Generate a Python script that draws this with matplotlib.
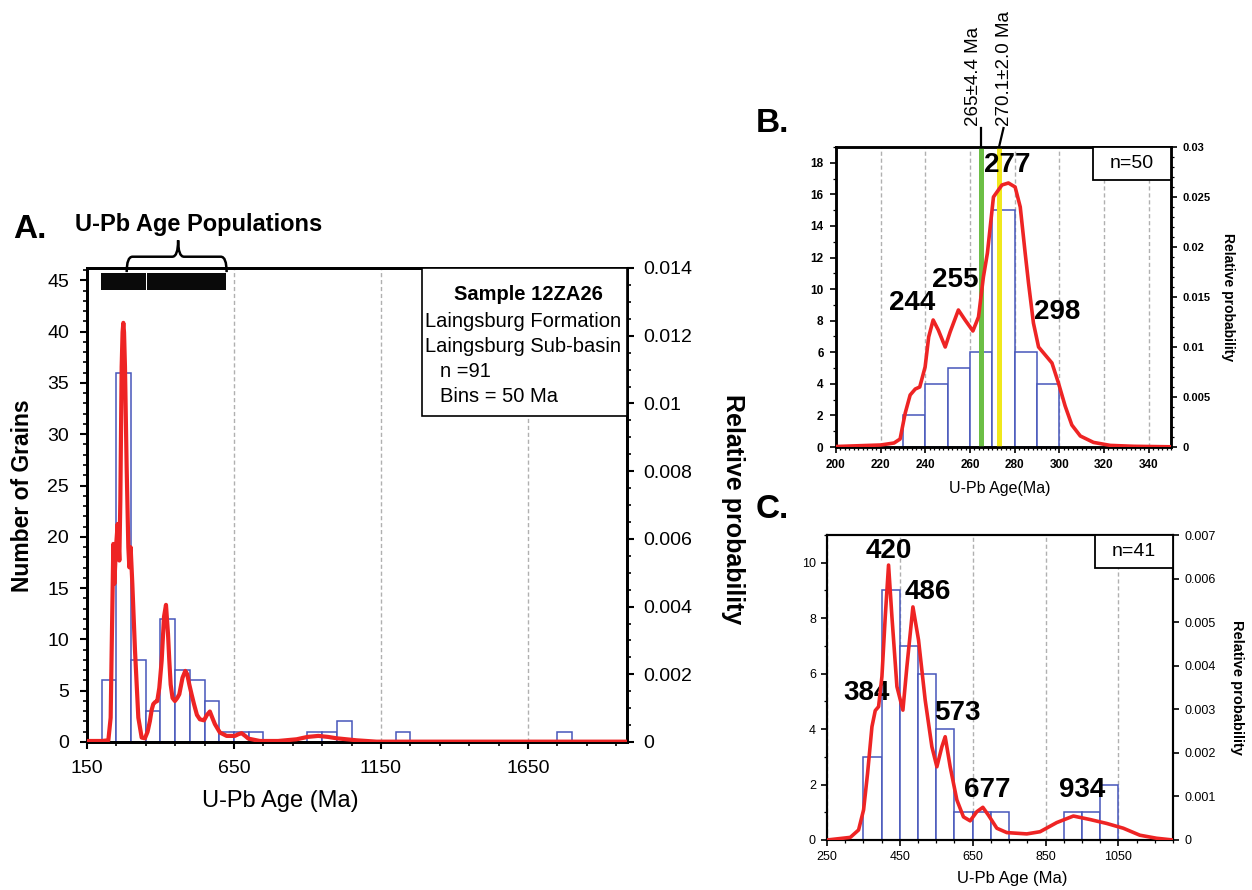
import matplotlib
matplotlib.use("Agg")
import matplotlib.pyplot as plt
from matplotlib.patches import PathPatch, Rectangle
from matplotlib.path import Path
from matplotlib.ticker import FixedLocator, FuncFormatter, MultipleLocator

# ---- panel A: sample 12ZA26, Laingsburg Formation (50 Ma bins)
bin_left_a = [200, 250, 300, 350, 400, 450, 500, 550, 600, 650, 700, 900, 950, 1000, 1200, 1750]
counts_a = [6, 36, 8, 3, 12, 7, 6, 4, 1, 1, 1, 1, 1, 2, 1, 1]
pdp_age_a = [150, 200, 222.6, 230.5, 233.9, 239.6, 243, 248.6, 254.3, 260, 263.4, 267.9, 271,
             273.6, 276, 279.2, 284.9, 290.6, 294, 298.5, 304.2, 313.3, 324.6, 336, 347, 356,
             364, 370, 375.5, 382, 389, 396, 404, 412, 418.7, 425.5, 430, 434.6, 441, 449, 457,
             464, 475, 484.4, 491, 498, 506, 514, 524, 534, 548, 558, 568, 577, 585, 602, 625,
             653, 665, 676, 688, 699, 738, 800, 863, 900, 937, 970, 999, 1067, 1135, 1987]
pdp_prob_a = [0.00003, 0.00003, 0.00005, 0.00072, 0.0027, 0.00585, 0.00467, 0.00575, 0.00644,
              0.00536, 0.00713, 0.01108, 0.0121, 0.01238, 0.0121, 0.01108, 0.00812, 0.00575,
              0.00516, 0.00575, 0.00467, 0.0027, 0.00072, 0.00013, 0.00011, 0.0003, 0.00062,
              0.00095, 0.00112, 0.00118, 0.00121, 0.0016, 0.0024, 0.0037, 0.00405, 0.0032,
              0.0024, 0.0017, 0.0013, 0.00121, 0.0013, 0.00141, 0.0019, 0.0021, 0.002, 0.0017,
              0.0014, 0.00112, 0.0008, 0.00067, 0.00064, 0.0008, 0.0009, 0.0007, 0.00053,
              0.00028, 0.00018, 0.00018, 0.00023, 0.00026, 0.00018, 0.0001, 0.00003, 0.00003,
              0.00008, 0.00015, 0.00018, 0.00015, 0.00011, 0.00005, 0.00001, 0.00001]
populations_a = [(197, 352), (354, 623)]
info_a = ["Sample 12ZA26", "Laingsburg Formation", "Laingsburg Sub-basin", "n =91", "Bins = 50 Ma"]

# ---- panel B: 10 Ma bins, n=50
bin_left_b = [230, 240, 250, 260, 270, 280, 290]
counts_b = [2, 4, 5, 6, 15, 6, 4]
pdp_age_b = [200, 220, 226, 228.7, 231, 233.2, 235.5, 237.5, 239.9, 241.5, 243.5, 245.8, 248.9,
             251.1, 254.8, 257.8, 261.3, 263.8, 266, 267.8, 270.5, 274.3, 277.2, 280.2, 282.5,
             284.7, 286.2, 288.4, 290.7, 293.7, 296.7, 299.6, 302.6, 305.6, 309.4, 315.3, 322.8,
             333.3, 350]
pdp_prob_b = [0.00005, 0.0002, 0.0004, 0.0008, 0.0034, 0.0052, 0.0058, 0.006, 0.008, 0.011,
              0.0127, 0.0117, 0.0100, 0.0115, 0.0137, 0.0127, 0.0116, 0.0130, 0.0170, 0.0194,
              0.0250, 0.0262, 0.0264, 0.0260, 0.0240, 0.0194, 0.0164, 0.0124, 0.0100, 0.0092,
              0.0084, 0.0064, 0.0041, 0.0022, 0.0011, 0.00046, 0.00016, 0.00007, 0.00002]
peaks_b = ["244", "255", "277", "298"]
dated_ages_b = [265, 273]
dated_labels_b = ["265±4.4 Ma", "270.1±2.0 Ma"]

# ---- panel C: 50 Ma bins, n=41
bin_left_c = [350, 400, 450, 500, 550, 600, 650, 700, 900, 950, 1000]
counts_c = [3, 9, 7, 6, 4, 1, 1, 1, 1, 1, 2]
pdp_age_c = [250, 313.9, 336.7, 350.4, 361.4, 373.4, 382.5, 391.6, 400.8, 409.9, 419, 428.3,
             442, 458.4, 469.4, 485.9, 501.3, 519.6, 538, 551.7, 565.4, 574.5, 588.2, 606.5,
             624.7, 643, 661.4, 677.9, 693.2, 716.3, 743.7, 798.5, 835, 880.8, 926.5, 972.2,
             1018, 1063.6, 1109, 1155, 1200]
pdp_prob_c = [0.0, 0.00006, 0.00023, 0.00069, 0.00153, 0.0026, 0.00297, 0.00306, 0.00375,
              0.00512, 0.00631, 0.00512, 0.00352, 0.00298, 0.00398, 0.00535, 0.00459, 0.00321,
              0.00214, 0.00168, 0.00214, 0.00237, 0.00168, 0.00092, 0.00053, 0.00044, 0.00065,
              0.00075, 0.00057, 0.00027, 0.00017, 0.00014, 0.00019, 0.0004, 0.00055, 0.00047,
              0.00038, 0.00027, 0.00011, 0.00004, 0.0]
peaks_c = ["384", "420", "486", "573", "677", "934"]

BLUE = "#4656bb"
RED = "#ee2424"
GRID = "#b0b0b0"
GREEN = "#6cbf45"
YELLOW = "#f0e81c"

W, H = 1252, 890
plt.rcParams["font.family"] = ["Liberation Sans", "DejaVu Sans"]
fig = plt.figure(figsize=(W / 100, H / 100), dpi=100)


def fx(px):
    return px / W


def fy(py):
    return 1 - py / H


def rect(left, top, right, bottom):
    return [fx(left), fy(bottom), (right - left) / W, (bottom - top) / H]


prob_fmt = FuncFormatter(lambda v, _: f"{v:g}")


def hist_panel(ax, lefts, counts, width, lw):
    ax.bar(lefts, counts, width=width, align="edge", facecolor="white",
           edgecolor=BLUE, linewidth=lw, zorder=2)
    ax.grid(axis="x", which="major", color=GRID, ls=(0, (3, 2)), lw=1.0)
    ax.set_axisbelow(True)


def spines(ax, lw):
    for s in ax.spines.values():
        s.set_linewidth(lw)


def info_box(ax, x0, y0, text, size):
    ax.add_patch(Rectangle((x0, y0), 1 - x0, 1 - y0, transform=ax.transAxes,
                           facecolor="white", edgecolor="black", lw=1.3, zorder=6, clip_on=False))
    ax.text((x0 + 1) / 2, (y0 + 1) / 2, text, transform=ax.transAxes, ha="center",
            va="center", fontsize=size, zorder=7)


# ================= panel A =================
axA = fig.add_axes(rect(87, 268, 627, 742))
hist_panel(axA, bin_left_a, counts_a, 50, 1.1)
axA.broken_barh([(a, b - a) for a, b in populations_a], (44.1, 1.6), facecolors="#0a0a0a",
                zorder=3)
axA.set_xlim(150, 1987)
axA.set_ylim(0, 46.2)
axA.xaxis.set_major_locator(FixedLocator([150, 650, 1150, 1650]))
axA.xaxis.set_minor_locator(FixedLocator(list(range(150, 1987, 100))))
axA.yaxis.set_major_locator(MultipleLocator(5))
axA.yaxis.set_minor_locator(MultipleLocator(1))
axA.tick_params(which="major", direction="out", length=5, width=1.5, labelsize=14, pad=8)
axA.tick_params(which="minor", direction="out", length=3, width=1.2)

# brace over the populations
brace = Path(
    [(285, 45.8), (285, 47.3), (305, 47.3), (440, 47.3), (460, 47.3), (460, 48.9),
     (460, 47.3), (480, 47.3), (605, 47.3), (625, 47.3), (625, 45.8)],
    [Path.MOVETO, Path.CURVE3, Path.CURVE3, Path.LINETO, Path.CURVE3, Path.CURVE3,
     Path.CURVE3, Path.CURVE3, Path.LINETO, Path.CURVE3, Path.CURVE3])
axA.add_patch(PathPatch(brace, facecolor="none", edgecolor="black", lw=1.8, clip_on=False))

axA2 = axA.twinx()
axA2.plot(pdp_age_a, pdp_prob_a, color=RED, lw=3.0, solid_joinstyle="round",
          solid_capstyle="round", zorder=3)
axA2.set_ylim(0, 0.014)
axA2.yaxis.set_major_locator(MultipleLocator(0.002))
axA2.yaxis.set_minor_locator(MultipleLocator(0.0005))
axA2.yaxis.set_major_formatter(prob_fmt)
axA2.tick_params(which="major", direction="out", length=5, width=1.5, labelsize=14, pad=7)
axA2.tick_params(which="minor", direction="out", length=3, width=1.2)
spines(axA, 2.0)
spines(axA2, 2.0)

axA2.add_patch(Rectangle((0.620, 0.688), 0.38, 0.312, transform=axA2.transAxes,
                         facecolor="white", edgecolor="black", lw=1.2, zorder=6))
axA2.text(0.817, 0.944, info_a[0], transform=axA2.transAxes, ha="center", va="center",
          fontsize=14.5, fontweight="bold", zorder=7)
for txt, xx, yy in zip(info_a[1:], [0.626, 0.626, 0.654, 0.654], [0.887, 0.835, 0.782, 0.729]):
    axA2.text(xx, yy, txt, transform=axA2.transAxes, ha="left", va="center",
              fontsize=14.5, zorder=7)

fig.text(fx(23), fy(496), "Number of Grains", rotation=90, ha="center", va="center",
         fontsize=16.5, fontweight="bold")
fig.text(fx(280), fy(801), "U-Pb Age (Ma)", ha="center", va="center", fontsize=17)
fig.text(fx(733), fy(509), "Relative probability", rotation=270, ha="center", va="center",
         fontsize=18, fontweight="bold")
fig.text(fx(199), fy(225), "U-Pb Age Populations", ha="center", va="center", fontsize=17,
         fontweight="bold")
fig.text(fx(30), fy(230), "A.", ha="center", va="center", fontsize=24, fontweight="bold")

# ================= panel B =================
axB = fig.add_axes(rect(836, 147, 1171, 447))
hist_panel(axB, bin_left_b, counts_b, 10, 1.1)
axB.set_xlim(200, 350)
axB.set_ylim(0, 19)
axB.xaxis.set_major_locator(MultipleLocator(20))
axB.xaxis.set_minor_locator(MultipleLocator(2))
axB.yaxis.set_major_locator(MultipleLocator(2))
axB.yaxis.set_minor_locator(MultipleLocator(1))
axB.tick_params(which="major", direction="out", length=4, width=1.2, labelsize=8.5, pad=5)
axB.tick_params(which="minor", direction="out", length=2, width=0.9)
for lab in axB.get_xticklabels() + axB.get_yticklabels():
    lab.set_fontweight("bold")

axB2 = axB.twinx()
axB2.plot(pdp_age_b, pdp_prob_b, color=RED, lw=2.6, solid_joinstyle="round",
          solid_capstyle="round", zorder=3)
axB2.set_ylim(0, 0.03)
axB2.yaxis.set_major_locator(MultipleLocator(0.005))
axB2.yaxis.set_minor_locator(MultipleLocator(0.001))
axB2.yaxis.set_major_formatter(prob_fmt)
axB2.tick_params(which="major", direction="out", length=4, width=1.2, labelsize=8, pad=4)
axB2.tick_params(which="minor", direction="out", length=2, width=0.9)
for lab in axB2.get_yticklabels():
    lab.set_fontweight("bold")
spines(axB, 1.8)
spines(axB2, 1.8)

for age, col in zip(dated_ages_b, [GREEN, YELLOW]):
    axB.axvline(age, color=col, lw=3.6, zorder=4)
axB.plot([dated_ages_b[0], dated_ages_b[0]], [19, 20.2], color="black", lw=1.6, clip_on=False)
axB.plot([dated_ages_b[1], dated_ages_b[1] + 2], [19, 20.2], color="black", lw=1.6,
         clip_on=False)
for lab, xx in zip(dated_labels_b, [261.4, 275.3]):
    axB.text(xx, 20.3, lab, rotation=90, ha="center", va="bottom", fontsize=13.5, clip_on=False)

for lab, (xx, yy) in zip(peaks_b, [(233.9, 9.1), (253.6, 10.6), (276.8, 17.85), (298.9, 8.55)]):
    axB.text(xx, yy, lab, ha="center", va="center", fontsize=20, fontweight="bold", zorder=8)

info_box(axB2, 0.767, 0.89, "n=50", 14)
fig.text(fx(1000), fy(488), "U-Pb Age(Ma)", ha="center", va="center", fontsize=11.5)
fig.text(fx(1228), fy(297), "Relative probability", rotation=270, ha="center", va="center",
         fontsize=10, fontweight="bold")
fig.text(fx(772), fy(124), "B.", ha="center", va="center", fontsize=24, fontweight="bold")

# ================= panel C =================
axC = fig.add_axes(rect(827, 535, 1173, 840))
hist_panel(axC, bin_left_c, counts_c, 50, 1.1)
axC.set_xlim(250, 1200)
axC.set_ylim(0, 11)
axC.xaxis.set_major_locator(FixedLocator([250, 450, 650, 850, 1050]))
axC.xaxis.set_minor_locator(MultipleLocator(50))
axC.yaxis.set_major_locator(MultipleLocator(2))
axC.yaxis.set_minor_locator(MultipleLocator(1))
axC.tick_params(which="major", direction="out", length=4, width=1.2, labelsize=9, pad=4)
axC.tick_params(which="minor", direction="out", length=2, width=0.9)

axC2 = axC.twinx()
axC2.plot(pdp_age_c, pdp_prob_c, color=RED, lw=2.6, solid_joinstyle="round",
          solid_capstyle="round", zorder=3)
axC2.set_ylim(0, 0.007)
axC2.yaxis.set_major_locator(MultipleLocator(0.001))
axC2.yaxis.set_major_formatter(prob_fmt)
axC2.tick_params(which="major", direction="out", length=4, width=1.2, labelsize=9, pad=4)
spines(axC, 1.5)
spines(axC2, 1.5)

for lab, (xx, yy) in zip(peaks_c, [(359.7, 5.3), (420.9, 10.42), (526, 8.95), (606.6, 4.58),
                                   (690.5, 1.81), (949.4, 1.81)]):
    axC.text(xx, yy, lab, ha="center", va="center", fontsize=20, fontweight="bold", zorder=8)

info_box(axC2, 0.775, 0.892, "n=41", 14)
fig.text(fx(1012), fy(878), "U-Pb Age (Ma)", ha="center", va="center", fontsize=12)
fig.text(fx(1237), fy(687), "Relative probability", rotation=270, ha="center", va="center",
         fontsize=10.5, fontweight="bold")
fig.text(fx(772), fy(510), "C.", ha="center", va="center", fontsize=24, fontweight="bold")

fig.savefig("out.png", dpi=100)
plt.close(fig)
